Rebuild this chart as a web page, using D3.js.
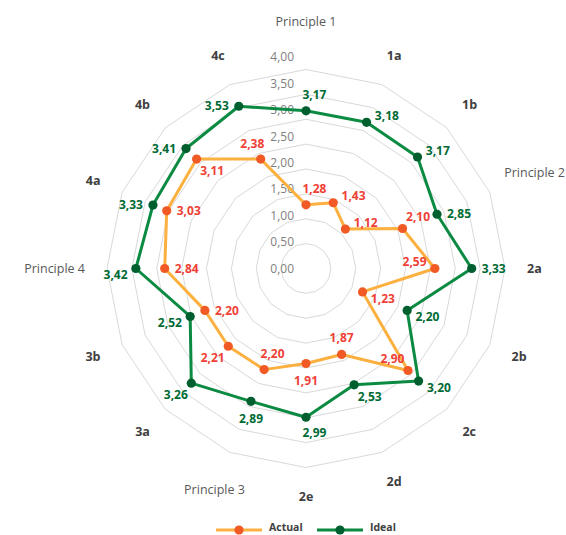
<!DOCTYPE html>
<html>
<head>
<meta charset="utf-8">
<script src="https://cdn.jsdelivr.net/npm/d3@7"></script>
<style>
  body { margin: 0; background: #fff; }
  svg { font-family: "Open Sans", sans-serif; }
</style>
</head>
<body>
<svg id="chart" width="566" height="535"></svg>
<script>
const categories = ["Principle 1", "1a", "1b", "Principle 2", "2a", "2b", "2c", "2d", "2e",
  "Principle 3", "3a", "3b", "Principle 4", "4a", "4b", "4c"]
const actual = [1.28, 1.43, 1.12, 2.10, 2.59, 1.23, 2.90, 1.87, 1.91, 2.20, 2.21, 2.20, 2.84, 3.03, 3.11, 2.38]
const ideal = [3.17, 3.18, 3.17, 2.85, 3.33, 2.20, 3.20, 2.53, 2.99, 2.89, 3.26, 2.52, 3.42, 3.33, 3.41, 3.53]
const ticks = [0, 0.5, 1, 1.5, 2, 2.5, 3, 3.5, 4]
// where each data label sits relative to its point (like Excel label placement)
const actualLabelPos = ["nne", "ene", "ene", "ne", "wnw", "ese", "nw", "n", "s", "nne", "sw", "e", "e", "e", "se", "nnw"]
const idealLabelPos = ["nne", "ene", "ene", "e", "e", "ese", "ese", "se", "sse", "s", "sw", "wsw", "wsw", "w", "w", "w"]

const config = {
  width: 566,
  cx: 306,
  cy: 268.5,
  radius: 199,
  labelRadius: 221,
  series: [
    { name: "Actual", values: actual, labelPos: actualLabelPos, line: "#FBB040", marker: "#F15A24", text: "#EF4136" },
    { name: "Ideal", values: ideal, labelPos: idealLabelPos, line: "#0B8A42", marker: "#005F2E", text: "#006B35" }
  ]
}

const compass = { n: 0, nne: 22.5, ne: 45, ene: 67.5, e: 90, ese: 112.5, se: 135, sse: 157.5,
  s: 180, ssw: 202.5, sw: 225, wsw: 247.5, w: 270, wnw: 292.5, nw: 315, nnw: 337.5 }

const fmt = (v) => d3.format(".2f")(v).replace(".", ",")

const svg = d3.select("#chart")
const g = svg.append("g").attr("transform", `translate(${config.cx},${config.cy})`)

const angle = d3.scalePoint()
  .domain(d3.range(categories.length + 1))
  .range([0, 2 * Math.PI])
const rScale = d3.scaleLinear().domain([0, 4]).range([0, config.radius])
// value axis labels are spaced a bit wider than the rings
const tickY = d3.scaleLinear().domain([0, 4]).range([0, -211.5])

const px = (i, r) => Math.sin(angle(i)) * r
const py = (i, r) => -Math.cos(angle(i)) * r

// grid rings
const ringLine = d3.lineRadial()
  .angle((d, i) => angle(i))
  .radius((d) => rScale(d))
  .curve(d3.curveLinearClosed)

g.selectAll(".ring")
  .data(ticks.filter((t) => t > 0))
  .enter()
  .append("path")
  .attr("class", "ring")
  .attr("d", (t) => ringLine(categories.map(() => t)))
  .style("fill", "none")
  .style("stroke", "#D9D9D9")
  .style("stroke-width", 1)

// value axis labels
g.selectAll(".tick-label")
  .data(ticks)
  .enter()
  .append("text")
  .attr("class", "tick-label")
  .attr("x", -12)
  .attr("y", (t) => tickY(t))
  .attr("dy", "0.35em")
  .attr("text-anchor", "end")
  .style("font-size", "12px")
  .style("fill", "#7F7F7F")
  .text(fmt)

// category labels
g.selectAll(".cat-label")
  .data(categories)
  .enter()
  .append("text")
  .attr("class", "cat-label")
  .attr("text-anchor", "middle")
  .attr("dy", "0.35em")
  .style("font-size", "12.5px")
  .style("font-weight", (d) => d.startsWith("Principle") ? 400 : 700)
  .style("fill", (d) => d.startsWith("Principle") ? "#595959" : "#404040")
  .text((d) => d)
  .each(function (d, i) {
    const hw = this.getComputedTextLength() / 2
    const hh = 7
    const a = angle(i)
    let r = config.labelRadius + hw * Math.abs(Math.sin(a)) + hh * Math.abs(Math.cos(a))
    // the top label has to clear the value axis labels
    if (i === 0) r = -tickY(4) + 35
    const maxX = config.width - config.cx - hw - 1
    const x = Math.min(px(i, r), maxX)
    d3.select(this).attr("x", x).attr("y", py(i, r))
  })

// series lines and markers
const seriesLine = d3.line()
  .x((d, i) => px(i, rScale(d)))
  .y((d, i) => py(i, rScale(d)))
  .curve(d3.curveLinearClosed)

const series = g.selectAll(".series")
  .data(config.series)
  .enter()
  .append("g")
  .attr("class", "series")

series.append("path")
  .attr("d", (s) => seriesLine(s.values))
  .style("fill", "none")
  .style("stroke", (s) => s.line)
  .style("stroke-width", 3)
  .style("stroke-linejoin", "round")

series.selectAll("circle")
  .data((s) => s.values.map((v) => ({ v, s })))
  .enter()
  .append("circle")
  .attr("cx", (d, i) => px(i, rScale(d.v)))
  .attr("cy", (d, i) => py(i, rScale(d.v)))
  .attr("r", 4.6)
  .style("fill", (d) => d.s.marker)

// data labels
const labels = g.selectAll(".labels")
  .data(config.series)
  .enter()
  .append("g")
  .attr("class", "labels")

labels.selectAll("text")
  .data((s) => s.values.map((v, i) => ({ v, s, pos: s.labelPos[i] })))
  .enter()
  .append("text")
  .attr("x", (d, i) => px(i, rScale(d.v)) + Math.sin(compass[d.pos] * Math.PI / 180) * 22)
  .attr("y", (d, i) => py(i, rScale(d.v)) - Math.cos(compass[d.pos] * Math.PI / 180) * 17)
  .attr("dy", "0.35em")
  .attr("text-anchor", "middle")
  .style("font-size", "12px")
  .style("font-weight", 700)
  .style("fill", (d) => d.s.text)
  .text((d) => fmt(d.v))

// legend
const legend = svg.append("g").attr("transform", "translate(216,530)")
const item = legend.selectAll(".legend-item")
  .data(config.series)
  .enter()
  .append("g")
  .attr("class", "legend-item")
  .attr("transform", (d, i) => `translate(${i * 101},0)`)

item.append("line")
  .attr("x1", 0).attr("x2", 46)
  .style("stroke", (d) => d.line)
  .style("stroke-width", 3)
item.append("circle")
  .attr("cx", 23)
  .attr("r", 4.6)
  .style("fill", (d) => d.marker)
item.append("text")
  .attr("x", 53)
  .attr("dy", "0.1em")
  .style("font-size", "10.5px")
  .style("font-weight", 700)
  .style("fill", "#404040")
  .text((d) => d.name)
</script>
</body>
</html>
